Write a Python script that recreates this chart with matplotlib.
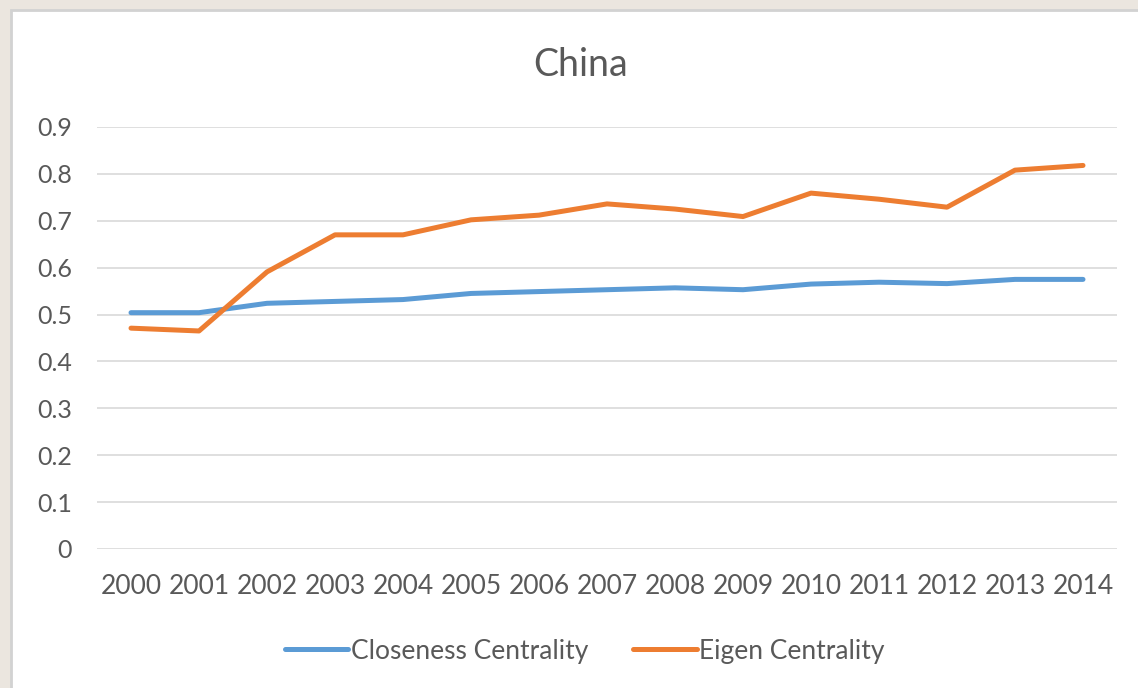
import matplotlib
matplotlib.use("Agg")
import matplotlib.pyplot as plt
from matplotlib.patches import Rectangle

years = ["2000", "2001", "2002", "2003", "2004", "2005", "2006", "2007",
         "2008", "2009", "2010", "2011", "2012", "2013", "2014"]
closeness = [0.504, 0.504, 0.524, 0.528, 0.532, 0.545, 0.549, 0.553,
             0.557, 0.553, 0.565, 0.569, 0.566, 0.575, 0.575]
eigen = [0.471, 0.465, 0.591, 0.670, 0.670, 0.702, 0.712, 0.736,
         0.725, 0.709, 0.759, 0.746, 0.729, 0.808, 0.818]
yticks = [0, 0.1, 0.2, 0.3, 0.4, 0.5, 0.6, 0.7, 0.8, 0.9]
ytick_labels = ["0", "0.1", "0.2", "0.3", "0.4", "0.5", "0.6", "0.7", "0.8", "0.9"]

plt.rcParams['font.family'] = ['Lato', 'DejaVu Sans']
W, H = 1138, 688
fig = plt.figure(figsize=(W / 100, H / 100), dpi=100)
fig.patch.set_facecolor('#ebe6df')
card = Rectangle((11 / W, -0.05), 1.2, 1 - 10 / H + 0.05, transform=fig.transFigure,
                 facecolor='white', edgecolor='#d2d2d2', linewidth=2, zorder=-10)
fig.patches.append(card)

ax = fig.add_axes([97 / W, (H - 549) / H, (1117 - 97) / W, (549 - 127) / H])
ax.set_zorder(1)
ax.set_facecolor('none')
x = list(range(len(years)))
text_color = '#595959'
ax.plot(x, closeness, color='#5B9BD5', linewidth=3.6, solid_capstyle='round',
        solid_joinstyle='round', label='Closeness Centrality', zorder=3)
ax.plot(x, eigen, color='#ED7D31', linewidth=3.6, solid_capstyle='round',
        solid_joinstyle='round', label='Eigen Centrality', zorder=3)

ax.set_xlim(-0.5, len(years) - 0.5)
ax.set_ylim(0, 0.9)
ax.set_yticks(yticks)
ax.set_yticklabels(ytick_labels)
ax.set_xticks(x)
ax.set_xticklabels(years)
ax.grid(axis='y', color='#d9d9d9', linewidth=1.2)
ax.set_axisbelow(True)
for s in ax.spines.values():
    s.set_visible(False)
ax.tick_params(axis='both', length=0, labelcolor=text_color)
ax.tick_params(axis='y', pad=18, labelsize=18)
ax.tick_params(axis='x', pad=18, labelsize=19)

fig.text(581 / W, 1 - 65 / H, 'China', ha='center', va='center', fontsize=27,
         color=text_color)

leg = fig.legend(loc='center', bbox_to_anchor=(585 / W, 1 - 651 / H), ncol=2,
                 frameon=False, fontsize=19, handlelength=2.4, handletextpad=0.1,
                 columnspacing=1.7)
for t in leg.get_texts():
    t.set_color(text_color)

fig.savefig('out.png', dpi=100, facecolor=fig.get_facecolor())
